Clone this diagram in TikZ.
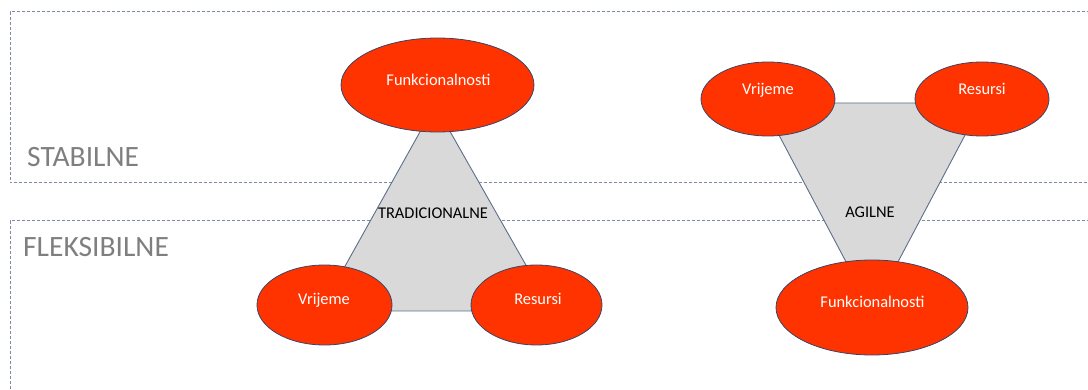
\documentclass[tikz,border=0pt]{standalone}
\usepackage{fontspec}
\setmainfont{Carlito}
\usetikzlibrary{shapes.geometric}
\definecolor{boxline}{HTML}{7D8AA2}
\definecolor{ellfill}{HTML}{FF3300}
\definecolor{ellline}{HTML}{3A4566}
\definecolor{trifill}{HTML}{D9D9D9}
\definecolor{triline}{HTML}{5C6E8C}
\definecolor{zonetext}{HTML}{7F7F7F}
\tikzset{
  zone/.style={draw=boxline, line width=1pt, dash pattern=on 3pt off 2pt},
  zonelabel/.style={text=zonetext, font=\fontsize{29.5}{31}\selectfont, anchor=base west, inner sep=0pt},
  blob/.style={ellipse, draw=ellline, line width=0.8pt, fill=ellfill, inner sep=0pt},
  blobtext/.style={text=white, font=\fontsize{16.4}{18}\selectfont, anchor=base, inner sep=0pt},
  tri/.style={draw=triline, line width=0.9pt, fill=trifill, line join=miter},
  tritext/.style={text=black, font=\fontsize{16.4}{18}\selectfont, anchor=base, inner sep=0pt}
}
\begin{document}
\begin{tikzpicture}[x=1pt,y=-1pt]
\useasboundingbox (0,0) rectangle (1088,390);
\begin{scope}
\clip (0,0) rectangle (1088,390);
% zones
\draw[zone] (1095,12) -- (10,12) -- (10,183) -- (1095,183);
\draw[zone] (1095,221) -- (10,221) -- (10,400);
\end{scope}
\node[zonelabel] (stab) at (27,167) {STABILNE};
\node[zonelabel] (flex) at (23,257) {FLEKSIBILNE};

% traditional triangle
\filldraw[tri] (435,105) -- (552,311) -- (320,311) -- cycle;
\node[tritext] (trad) at (433,218.5) {TRADICIONALNE};
\node[blob, minimum width=193pt, minimum height=94pt] (tf) at (437.5,85) {};
\node[blob, minimum width=135pt, minimum height=80pt] (tv) at (324.5,305) {};
\node[blob, minimum width=131pt, minimum height=80pt] (tr) at (536.5,305) {};
\node[blobtext] (tft) at (438.5,85.5) {Funkcionalnosti};
\node[blobtext] (tvt) at (324,304.5) {Vrijeme};
\node[blobtext] (trt) at (538,304.5) {Resursi};

% agile triangle
\filldraw[tri] (762,103) -- (982,103) -- (872,311) -- cycle;
\node[tritext] (agl) at (870,217.5) {AGILNE};
\node[blob, minimum width=134pt, minimum height=74pt] (av) at (768,99) {};
\node[blob, minimum width=134pt, minimum height=74pt] (ar) at (982,99) {};
\node[blob, minimum width=192pt, minimum height=95pt] (af) at (872,307.5) {};
\node[blobtext] (avt) at (768,94.5) {Vrijeme};
\node[blobtext] (art) at (982,94.5) {Resursi};
\node[blobtext] (aft) at (872.5,307.5) {Funkcionalnosti};
\end{tikzpicture}
\end{document}
